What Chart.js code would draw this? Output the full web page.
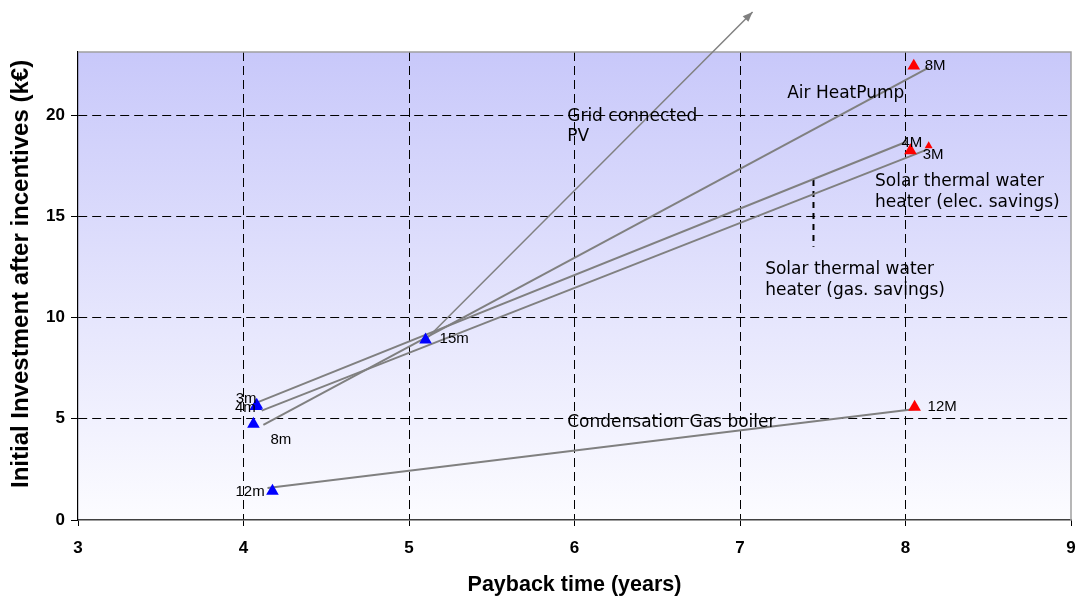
<!DOCTYPE html>
<html>
<head>
<meta charset="utf-8">
<script src="https://cdn.jsdelivr.net/npm/chart.js@4/dist/chart.umd.min.js"></script>
<style>
  html, body { margin: 0; padding: 0; background: #ffffff; }
  #wrap { width: 1080px; height: 600px; }
</style>
</head>
<body>
<div id="wrap"><canvas id="c" width="1080" height="600"></canvas></div>
<script>
// ---------- data ----------
const xTicks = [3, 4, 5, 6, 7, 8, 9];
const yTicks = [0, 5, 10, 15, 20];

// minimum-case points (blue)
const lowLabels = ['3m', '4m', '8m', '12m', '15m'];
const lowX = [4.08, 4.075, 4.06, 4.175, 5.10];
const lowY = [5.68, 5.62, 4.74, 1.43, 8.90];

// maximum-case points (red)
const highLabels = ['8M', '4M', '3M', '12M'];
const highX = [8.05, 8.03, 8.14, 8.055];
const highY = [22.43, 18.25, 18.48, 5.58];

// technology ranges (min -> max)
const techNames = ['Air HeatPump', 'Solar thermal water heater (gas. savings)',
                   'Solar thermal water heater (elec. savings)', 'Condensation Gas boiler'];
const techStartX = [4.12, 4.08, 4.11, 4.145];
const techStartY = [4.70, 5.80, 5.40, 1.58];
const techEndX = [8.14, 8.01, 8.13, 8.06];
const techEndY = [22.35, 18.70, 18.30, 5.48];

// grid connected PV range, runs beyond the top of the axis
const pvX = [5.10, 7.076];
const pvY = [8.90, 25.10];

// leader line for the gas-savings caption
const leaderX = [7.444, 7.444];
const leaderY = [16.80, 13.50];

// ---------- layout / style ----------
const Y_MAX = 23.12;
const GRAY = '#808080';
const pointRadiusHigh = [7.3, 7.3, 4.6, 7.3];

// label offsets in pixels from each marker
const tagOffset = {
  '3m': [-21, -6], '4m': [-21, 2], '8m': [17, 16], '12m': [-37, 1], '15m': [14, -1],
  '8M': [11, 0], '4M': [-9, -8], '3M': [-6, 9], '12M': [13, 0]
};

// captions anchored in data coordinates
const captions = [
  { lines: ['Grid connected', 'PV'], x: 5.956, y: 19.95 },
  { lines: ['Air HeatPump'], x: 7.285, y: 21.05 },
  { lines: ['Solar thermal water', 'heater (elec. savings)'], x: 7.816, y: 16.70 },
  { lines: ['Solar thermal water', 'heater (gas. savings)'], x: 7.152, y: 12.35 },
  { lines: ['Condensation Gas boiler'], x: 5.956, y: 4.80 }
];

const toPts = (xs, ys) => xs.map((x, i) => ({ x: x, y: ys[i] }));

const datasets = [
  {
    type: 'scatter', label: 'min', data: toPts(lowX, lowY), tags: lowLabels,
    pointStyle: 'triangle', pointRadius: 7.3, backgroundColor: '#0000ff',
    borderColor: '#0000ff', borderWidth: 0
  },
  {
    type: 'scatter', label: 'max', data: toPts(highX, highY), tags: highLabels,
    pointStyle: 'triangle', pointRadius: pointRadiusHigh, backgroundColor: '#ff0000',
    borderColor: '#ff0000', borderWidth: 0
  }
];
techNames.forEach((name, i) => {
  datasets.push({
    type: 'line', label: name,
    data: [{ x: techStartX[i], y: techStartY[i] }, { x: techEndX[i], y: techEndY[i] }],
    borderColor: GRAY, borderWidth: 2, pointRadius: 0, fill: false
  });
});
datasets.push({
  type: 'line', label: 'Grid connected PV', data: toPts(pvX, pvY), arrow: true,
  borderColor: GRAY, borderWidth: 1.5, pointRadius: 0, fill: false, clip: false
});
datasets.push({
  type: 'line', label: 'leader', data: toPts(leaderX, leaderY),
  borderColor: '#000000', borderWidth: 2, borderDash: [6, 5], pointRadius: 0, fill: false
});

// plot background gradient and light frame on top/right
const plotFrame = {
  id: 'plotFrame',
  beforeDraw(chart) {
    const { ctx, chartArea: a } = chart;
    const g = ctx.createLinearGradient(0, a.top, 0, a.bottom);
    g.addColorStop(0, '#c8c8fa');
    g.addColorStop(1, '#fcfcff');
    ctx.save();
    ctx.fillStyle = g;
    ctx.fillRect(a.left, a.top, a.right - a.left, a.bottom - a.top);
    ctx.restore();
  },
  beforeDatasetsDraw(chart) {
    const { ctx, chartArea: a } = chart;
    ctx.save();
    ctx.strokeStyle = '#a0a0a0';
    ctx.lineWidth = 1.5;
    ctx.beginPath();
    ctx.moveTo(a.left, a.top);
    ctx.lineTo(a.right, a.top);
    ctx.lineTo(a.right, a.bottom);
    ctx.stroke();
    ctx.restore();
  }
};

// arrow head, marker tags and captions
const overlay = {
  id: 'overlay',
  afterDatasetsDraw(chart) {
    const { ctx, scales } = chart;
    ctx.save();
    chart.data.datasets.forEach((ds, di) => {
      const meta = chart.getDatasetMeta(di);
      if (ds.arrow) {
        const p0 = meta.data[meta.data.length - 2], p1 = meta.data[meta.data.length - 1];
        const ang = Math.atan2(p1.y - p0.y, p1.x - p0.x);
        const L = 10, W = 4;
        ctx.fillStyle = GRAY;
        ctx.beginPath();
        ctx.moveTo(p1.x, p1.y);
        ctx.lineTo(p1.x - L * Math.cos(ang) + W * Math.sin(ang), p1.y - L * Math.sin(ang) - W * Math.cos(ang));
        ctx.lineTo(p1.x - L * Math.cos(ang) - W * Math.sin(ang), p1.y - L * Math.sin(ang) + W * Math.cos(ang));
        ctx.closePath();
        ctx.fill();
      }
      if (ds.tags) {
        ctx.fillStyle = '#000000';
        ctx.font = '15px "Liberation Sans", Arial, sans-serif';
        ctx.textAlign = 'left';
        ctx.textBaseline = 'middle';
        ds.tags.forEach((t, i) => {
          const el = meta.data[i];
          const off = tagOffset[t] || [8, 0];
          ctx.fillText(t, el.x + off[0], el.y + off[1]);
        });
      }
    });
    ctx.fillStyle = '#000000';
    ctx.font = '17px "DejaVu Sans", sans-serif';
    ctx.textAlign = 'left';
    ctx.textBaseline = 'middle';
    captions.forEach(c => {
      const px = scales.x.getPixelForValue(c.x);
      const py = scales.y.getPixelForValue(c.y);
      c.lines.forEach((ln, k) => ctx.fillText(ln, px, py + k * 20.5));
    });
    ctx.restore();
  },
  afterDraw(chart) {
    // vertical axis title
    const { ctx, chartArea: a } = chart;
    ctx.save();
    ctx.translate(21, a.bottom - 32);
    ctx.rotate(-Math.PI / 2);
    ctx.fillStyle = '#000000';
    ctx.font = 'bold 24px "Liberation Sans", Arial, sans-serif';
    ctx.textAlign = 'left';
    ctx.textBaseline = 'middle';
    ctx.fillText('Initial Investment after incentives (k\u20AC)', 0, 0);
    ctx.restore();
  }
};

const tickFont = { family: '"Liberation Sans", Arial, sans-serif', size: 17, weight: 'bold' };

new Chart(document.getElementById('c'), {
  data: { datasets: datasets },
  options: {
    responsive: false,
    animation: false,
    events: [],
    layout: { padding: { top: 52, right: 0, bottom: 0, left: 0 } },
    plugins: { legend: { display: false }, tooltip: { enabled: false } },
    scales: {
      x: {
        type: 'linear', min: 3, max: 9,
        afterBuildTicks: s => { s.ticks = xTicks.map(v => ({ value: v })); },
        afterFit: s => { s.height = 80; s.paddingRight = 9; s.paddingLeft = 0; },
        grid: {
          color: c => (c.tick && (c.tick.value === 9 || c.tick.value === 3)) ? 'rgba(0,0,0,0)' : '#000000',
          lineWidth: 1, tickColor: '#000000', tickLength: 6
        },
        border: { display: true, color: '#404040', width: 1.5, dash: [9, 5] },
        ticks: { color: '#000000', font: tickFont, padding: 12, maxRotation: 0, autoSkip: false },
        title: {
          display: true, text: 'Payback time (years)', color: '#000000',
          font: { family: '"Liberation Sans", Arial, sans-serif', size: 21.5, weight: 'bold' },
          padding: { top: 0, bottom: 2 }
        }
      },
      y: {
        type: 'linear', min: 0, max: Y_MAX,
        afterBuildTicks: s => { s.ticks = yTicks.map(v => ({ value: v })); },
        afterFit: s => { s.width = 78; },
        grid: {
          color: c => (c.tick && c.tick.value === 0) ? 'rgba(0,0,0,0)' : '#000000',
          lineWidth: 1, tickColor: '#000000', tickLength: 7
        },
        border: { display: true, color: '#000000', width: 1.2, dash: [9, 5] },
        ticks: { color: '#000000', font: tickFont, padding: 6 },
        title: { display: false }
      }
    }
  },
  plugins: [plotFrame, overlay]
});
</script>
</body>
</html>
